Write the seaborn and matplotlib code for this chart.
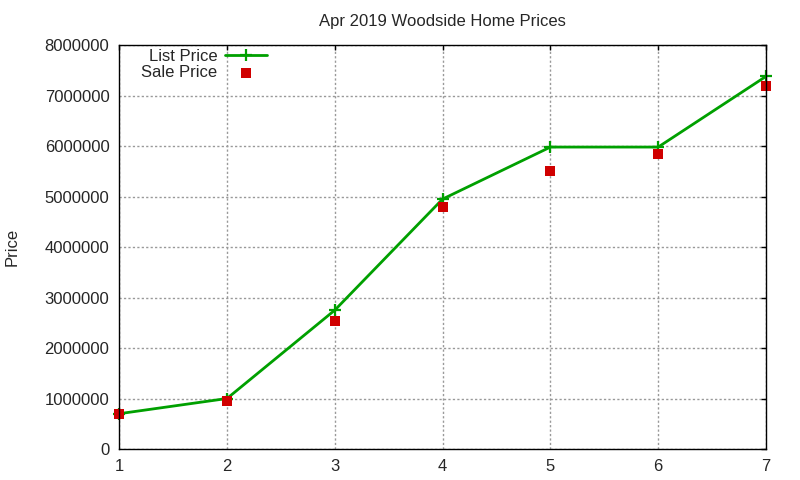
import matplotlib
matplotlib.use("Agg")
import matplotlib.pyplot as plt
import seaborn as sns
import pandas as pd

x_vals = [1, 2, 3, 4, 5, 6, 7]
list_price = [699000, 1000000, 2750000, 4950000, 5980000, 5980000, 7380000]
sale_price = [695000, 950000, 2540000, 4800000, 5510000, 5850000, 7190000]
y_ticks = [0, 1000000, 2000000, 3000000, 4000000, 5000000, 6000000, 7000000, 8000000]

sns.set_style("white")
plt.rcParams['font.family'] = ['Liberation Sans', 'DejaVu Sans']

df = pd.DataFrame({"x": x_vals, "list": list_price, "sale": sale_price})

fig = plt.figure(figsize=(8, 4.8), dpi=100)
ax = fig.add_axes([0.149, 0.0646, 0.8085, 0.8415])

sns.lineplot(data=df, x="x", y="list", ax=ax, color="#00a000", linewidth=2,
             marker="+", markersize=8, markeredgewidth=1.6, markeredgecolor="#00a000",
             label="List Price", clip_on=False, zorder=3)
sns.scatterplot(data=df, x="x", y="sale", ax=ax, color="#d00000", marker="s",
                s=45, linewidth=0, label="Sale Price", zorder=4, clip_on=False)

ax.set_xlim(1, 7)
ax.set_ylim(0, 8000000)
ax.set_xticks(x_vals)
ax.set_yticks(y_ticks)
ax.set_yticklabels([str(v) for v in y_ticks])
ax.tick_params(direction='in', length=3.8, top=True, right=True, labelsize=12, width=1, color='black', pad=7)
for s in ax.spines.values():
    s.set_color('black')
    s.set_linewidth(1)
    s.set_zorder(5)
ax.grid(True, linestyle=(0, (1.6, 1.6)), color='#999999', linewidth=1)
ax.set_axisbelow(True)
ax.set_xlabel("")
ax.set_ylabel("Price", fontsize=12, labelpad=18)
ax.set_title("Apr 2019 Woodside Home Prices", fontsize=12, pad=14)

leg = ax.legend(loc='upper left', bbox_to_anchor=(0.016, 1.02), frameon=False, markerfirst=False,
                fontsize=12, handlelength=2.5, handletextpad=0.45, borderaxespad=0.3,
                labelspacing=0.08, alignment='right')
for t in leg.get_texts():
    t.set_ha('right')

fig.savefig("out.png", dpi=100)
